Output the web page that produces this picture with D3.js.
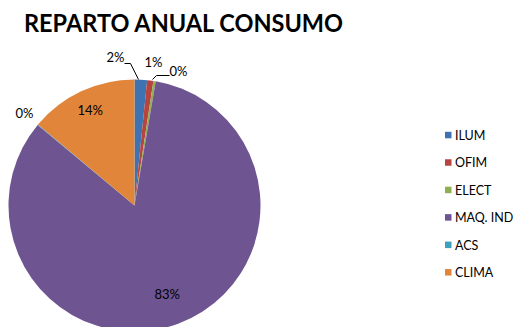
<!DOCTYPE html>
<html>
<head>
<meta charset="utf-8">
<script src="https://cdn.jsdelivr.net/npm/d3@7"></script>
<style>
  body { margin: 0; background: #fff; }
  text { font-family: Lato, "Open Sans", sans-serif; fill: #000; }
</style>
</head>
<body>
<div id="chart"></div>
<script>
const categories = ["ILUM", "OFIM", "ELECT", "MAQ. IND", "ACS", "CLIMA"];
const values = [1.6, 0.8, 0.3, 83.35, 0.05, 13.9];
const colors = ["#3f72b0", "#b84440", "#8fb050", "#6e5490", "#3ba1bd", "#e0853a"];

const width = 518, height = 327;
const cx = 134.5, cy = 205.5, radius = 126;

const svg = d3.select("#chart")
  .append("svg")
  .attr("width", width)
  .attr("height", height);

svg.append("text")
  .attr("x", 24)
  .attr("y", 32)
  .attr("font-size", 24)
  .attr("font-weight", "bold")
  .attr("textLength", 319)
  .attr("lengthAdjust", "spacingAndGlyphs")
  .text("REPARTO ANUAL CONSUMO");

const data = categories.map((c, i) => ({cat: c, value: values[i], color: colors[i]}));
const total = d3.sum(values);

const pie = d3.pie().value(d => d.value).sort(null);
const arcs = pie(data);
const arc = d3.arc().innerRadius(0).outerRadius(radius);

const g = svg.append("g").attr("transform", `translate(${cx},${cy})`);

g.selectAll("path")
  .data(arcs)
  .enter().append("path")
  .attr("d", arc)
  .attr("fill", d => d.data.color);

// label placement: inside for big slices, leader lines for the thin ones
const labelPos = {
  "ILUM":     {x: -19, y: -148, line: [[-10, -142], [-4, -142], [4, -126]]},
  "OFIM":     {x: 19, y: -143, line: null},
  "ELECT":    {x: 44, y: -134, line: [[35, -130], [22, -130], [18, -126]]},
  "ACS":      {x: -110, y: -92, line: null}
};
const insideR = {"MAQ. IND": 0.75, "CLIMA": 0.83};

const fmt = v => Math.round(v / total * 100) + "%";

arcs.forEach(d => {
  const cat = d.data.cat;
  let x, y;
  if (insideR[cat]) {
    const a = (d.startAngle + d.endAngle) / 2;
    x = Math.sin(a) * radius * insideR[cat];
    y = -Math.cos(a) * radius * insideR[cat];
  } else {
    x = labelPos[cat].x;
    y = labelPos[cat].y;
    if (labelPos[cat].line) {
      g.append("path")
        .attr("d", d3.line()(labelPos[cat].line))
        .attr("fill", "none")
        .attr("stroke", "#000")
        .attr("stroke-width", 1);
    }
  }
  g.append("text")
    .attr("x", x)
    .attr("y", y)
    .attr("text-anchor", "middle")
    .attr("dy", "0.35em")
    .attr("font-size", 13)
    .text(fmt(d.data.value));
});

const legend = svg.append("g")
  .selectAll("g")
  .data(data)
  .enter().append("g")
  .attr("transform", (d, i) => `translate(445,${135.3 + i * 27.45})`);

legend.append("rect")
  .attr("x", 0)
  .attr("y", -3.5)
  .attr("width", 6.5)
  .attr("height", 6.5)
  .attr("fill", d => d.color);

legend.append("text")
  .attr("x", 10)
  .attr("y", 0)
  .attr("dy", "0.36em")
  .attr("font-size", 12.5)
  .text(d => d.cat);
</script>
</body>
</html>
